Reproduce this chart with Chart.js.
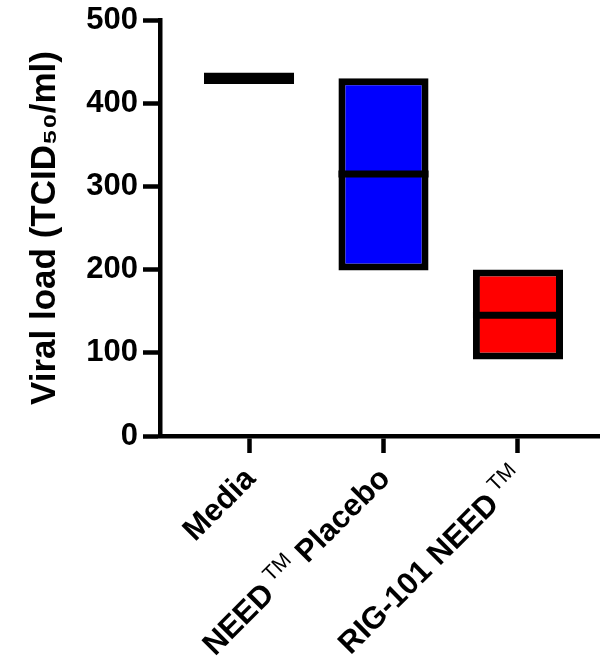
<!DOCTYPE html>
<html>
<head>
<meta charset="utf-8">
<script src="https://cdn.jsdelivr.net/npm/chart.js@4"></script>
<style>
  body { margin: 0; background: #fff; }
</style>
</head>
<body>
<canvas id="myChart" width="600" height="665"></canvas>
<script>
'use strict';

// DATA
let groupNames = ['Media', 'NEED\u2122 Placebo', 'RIG-101 NEED\u2122'];
let lowValues = [423, 199, 92];
let highValues = [437, 430, 200];
let medianValues = [430, 315, 145];
let yTicks = [0, 100, 200, 300, 400, 500];
let boxColors = ['#000000', '#0000ff', '#ff0000'];

// build floating bars (low..high) and median points
let boxData = [];
let medianData = [];
for (let i = 0; i < groupNames.length; i++) {
  boxData.push({ x: i, y: [lowValues[i], highValues[i]] });
  medianData.push({ x: i, y: medianValues[i] });
}

const fontFamily = '"Liberation Sans", Arial, sans-serif';

// x labels are drawn by hand so the TM can be a thin superscript
const groupLabels = {
  id: 'groupLabels',
  afterDraw: function (chart) {
    let ctx = chart.ctx;
    let xScale = chart.scales.x;
    let boldFont = 'bold 31px ' + fontFamily;
    let tmFont = '21px ' + fontFamily;
    ctx.save();
    ctx.fillStyle = '#000';
    ctx.textBaseline = 'middle';
    ctx.textAlign = 'left';
    for (let i = 0; i < groupNames.length; i++) {
      // split label into pieces around the TM sign
      let pieces = [];
      let chunks = groupNames[i].split('\u2122');
      for (let j = 0; j < chunks.length; j++) {
        if (chunks[j]) pieces.push({ text: chunks[j], font: boldFont, raise: 0 });
        if (j < chunks.length - 1) pieces.push({ text: ' TM', font: tmFont, raise: 10 });
      }
      let total = 0;
      pieces.forEach(function (p) {
        ctx.font = p.font;
        p.width = ctx.measureText(p.text).width;
        total += p.width;
      });
      let x = xScale.getPixelForValue(i) + 2;
      let y = chart.chartArea.bottom + 38;
      ctx.translate(x, y);
      ctx.rotate(-Math.PI / 4);
      let pos = -total;
      pieces.forEach(function (p) {
        ctx.font = p.font;
        ctx.fillText(p.text, pos, -p.raise);
        pos += p.width;
      });
      ctx.setTransform(1, 0, 0, 1, 0, 0);
    }
    ctx.restore();
  }
};

const data = {
  datasets: [
    {
      type: 'scatter',
      label: 'Median',
      data: medianData,
      pointStyle: 'line',
      pointRadius: 45,
      pointHoverRadius: 45,
      borderColor: '#000',
      borderWidth: 7,
      clip: false,
      order: 0
    },
    {
      type: 'bar',
      label: 'Range',
      data: boxData,
      backgroundColor: boxColors,
      borderColor: '#000',
      borderWidth: 7,
      borderSkipped: false,
      barPercentage: 0.67,
      categoryPercentage: 1,
      order: 1
    }
  ]
};

const config = {
  type: 'bar',
  data: data,
  plugins: [groupLabels],
  options: {
    responsive: false,
    animation: false,
    layout: { autoPadding: false, padding: { top: 20, right: 0, left: 0, bottom: 0 } },
    plugins: {
      legend: { display: false },
      tooltip: { enabled: false }
    },
    scales: {
      x: {
        type: 'linear',
        offset: false,
        min: -0.662,
        max: 2.61,
        afterBuildTicks: function (scale) {
          scale.ticks = groupNames.map(function (n, i) { return { value: i }; });
        },
        afterFit: function (scale) {
          scale.height = 229;
          scale.paddingLeft = 0;
          scale.paddingRight = 0;
        },
        ticks: {
          display: false,
          autoSkip: false
        },
        grid: {
          offset: false,
          drawOnChartArea: false,
          drawTicks: true,
          tickLength: 17,
          tickWidth: 4.5,
          tickColor: '#000'
        },
        border: { color: '#000', width: 4.5 }
      },
      y: {
        min: 0,
        max: 500,
        afterBuildTicks: function (scale) {
          scale.ticks = yTicks.map(function (v) { return { value: v }; });
        },
        afterFit: function (scale) {
          scale.width = 160;
          scale.paddingTop = 0;
          scale.paddingBottom = 0;
        },
        ticks: {
          padding: 5,
          color: '#000',
          font: { family: fontFamily, size: 31, weight: 'bold' }
        },
        grid: {
          drawOnChartArea: false,
          drawTicks: true,
          tickLength: 17,
          tickWidth: 4.5,
          tickColor: '#000'
        },
        border: { color: '#000', width: 4.5 },
        title: {
          display: true,
          text: 'Viral load (TCID\u2085\u2080/ml)',
          color: '#000',
          padding: { top: 24, bottom: 0 },
          font: { family: fontFamily, size: 35, weight: 'bold' }
        }
      }
    }
  }
};

const myChart = new Chart(document.getElementById('myChart'), config);
</script>
</body>
</html>
